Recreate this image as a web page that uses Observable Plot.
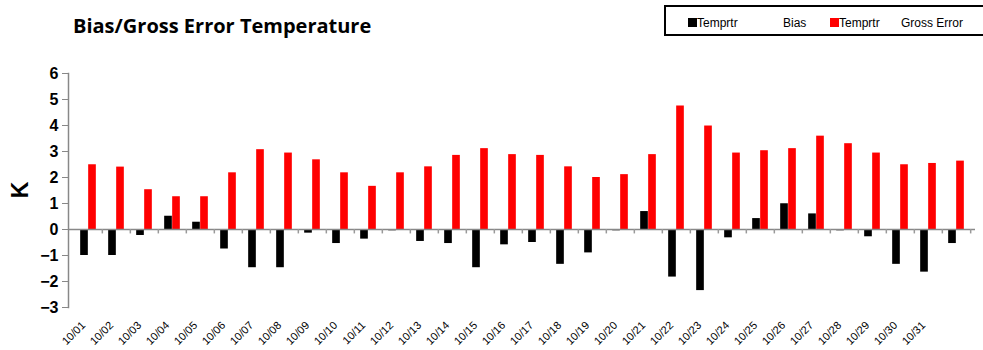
<!DOCTYPE html>
<html>
<head>
<meta charset="utf-8">
<script src="https://cdn.jsdelivr.net/npm/d3@7"></script>
<script src="https://cdn.jsdelivr.net/npm/@observablehq/plot@0.6"></script>
<style>
  html, body { margin: 0; padding: 0; background: #fff; }
  #wrap { position: relative; width: 983px; height: 350px; overflow: hidden; }
  #title { position: absolute; left: 73px; top: 12px; font: bold 20px "Open Sans", sans-serif; color: #000; white-space: nowrap; }
  #legend { position: absolute; left: 664px; top: 5px; width: 330px; height: 31px; border: 2px solid #000; box-sizing: border-box; font: 12px "Liberation Sans", Arial, sans-serif; color: #000; }
  #legend span { position: absolute; top: 9px; white-space: nowrap; }
  #legend .sw { width: 9px; height: 9px; top: 11px; }
  #ylabel { position: absolute; left: 20px; top: 190px; transform: translate(-50%, -50%) rotate(-90deg); font: bold 23px "Liberation Sans", Arial, sans-serif; }
</style>
</head>
<body>
<div id="wrap">
  <div id="title">Bias/Gross Error Temperature</div>
  <div id="legend"></div>
  <div id="ylabel">K</div>
</div>
<script>
const categories = ["10/01","10/02","10/03","10/04","10/05","10/06","10/07","10/08","10/09","10/10",
  "10/11","10/12","10/13","10/14","10/15","10/16","10/17","10/18","10/19","10/20",
  "10/21","10/22","10/23","10/24","10/25","10/26","10/27","10/28","10/29","10/30","10/31",""];
const bias = [-1.0,-1.0,-0.23,0.51,0.28,-0.75,-1.47,-1.47,-0.14,-0.54,
  -0.37,-0.05,-0.46,-0.54,-1.47,-0.59,-0.50,-1.34,-0.90,-0.05,
  0.69,-1.83,-2.35,-0.32,0.42,0.99,0.60,-0.05,-0.28,-1.34,-1.64,-0.54];
const grossError = [2.49,2.40,1.53,1.26,1.26,2.18,3.07,2.94,2.68,2.18,
  1.66,2.18,2.41,2.85,3.11,2.88,2.85,2.41,2.00,2.11,
  2.88,4.75,3.98,2.94,3.03,3.11,3.59,3.30,2.94,2.49,2.54,2.63];
const yTicks = [-3,-2,-1,0,1,2,3,4,5,6];
const seriesColors = ["#000000", "#ff0000"];

const rows = categories.map((c, i) => ({cat: c, bias: bias[i], gross: grossError[i]}));

const W = 983, H = 350, mL = 68, mR = 8, mT = 73, mB = 43;
const bw = (W - mL - mR) / categories.length;
const barW = 8;
const outer = bw / 2 - barW;

const chart = Plot.plot({
  width: W, height: H,
  marginLeft: mL, marginRight: mR, marginTop: mT, marginBottom: mB,
  x: {type: "band", domain: categories, padding: 0, align: 0.5},
  y: {domain: [-3, 6]},
  style: {background: "transparent"},
  marks: [
    Plot.frame({anchor: "left", stroke: "#888", strokeWidth: 1.5}),
    Plot.axisY({ticks: yTicks, tickSize: 6, tickPadding: 4, stroke: "#888",
      fontSize: 16, fontWeight: "bold", fill: "#000", label: null}),
    Plot.axisX({tickSize: 0, tickRotate: -45, tickPadding: 0, dx: -5, dy: 16, fontSize: 11,
      fill: "#000", label: null}),
    Plot.barY(rows, {x: "cat", y: "bias", fill: seriesColors[0], insetLeft: outer, insetRight: bw / 2}),
    Plot.barY(rows, {x: "cat", y: "gross", fill: seriesColors[1], insetLeft: bw / 2, insetRight: outer}),
    Plot.ruleY([0], {stroke: "#888", strokeWidth: 1.5}),
    Plot.ruleX(categories.slice(1), {x: d => d, y1: 0, y2: -0.17, dx: -bw / 2, stroke: "#999", strokeWidth: 1.5}),
    Plot.ruleX(categories.slice(-1), {x: d => d, y1: 0, y2: -0.17, dx: bw / 2, stroke: "#999", strokeWidth: 1.5})
  ]
});
chart.style.position = "absolute";
chart.style.left = "0px";
chart.style.top = "0px";
chart.setAttribute("font-family", "Liberation Sans, Arial, sans-serif");
document.getElementById("wrap").prepend(chart);

const legend = document.getElementById("legend");
const items = [
  {type: "sw", left: 22, color: seriesColors[0]},
  {type: "tx", left: 31, text: "Temprtr"},
  {type: "tx", left: 117, text: "Bias"},
  {type: "sw", left: 164, color: seriesColors[1]},
  {type: "tx", left: 173, text: "Temprtr"},
  {type: "tx", left: 235, text: "Gross  Error"}
];
items.forEach(it => {
  const s = document.createElement("span");
  if (it.type === "sw") { s.className = "sw"; s.style.background = it.color; }
  else s.textContent = it.text;
  s.style.left = it.left + "px";
  legend.appendChild(s);
});
</script>
</body>
</html>
